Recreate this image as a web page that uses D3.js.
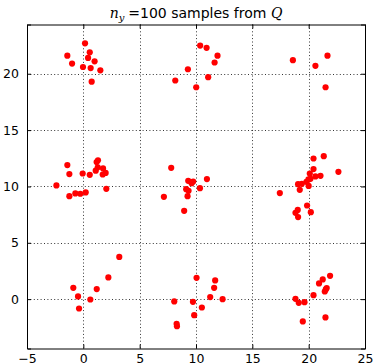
<!DOCTYPE html>
<html>
<head>
<meta charset="utf-8">
<script src="https://cdn.jsdelivr.net/npm/d3@7"></script>
<style>
  body { margin: 0; background: #fff; }
  svg { font-family: "DejaVu Sans", sans-serif; }
</style>
</head>
<body>
<svg id="chart" width="376" height="364"></svg>
<script>
// samples, grouped by cluster
const xs = [
  0.15, 0.57, -1.42, 0.42, 1.0, -1.0, -0.03, 0.65, 1.51, 0.74,
  10.37, 10.94, 11.91, 11.65, 9.28, 8.16, 11.08, 10.02,
  18.6, 21.67, 20.6, 21.5,
  1.30, 1.18, -1.42, 1.28, 1.75, 1.1, 1.98, 1.72, -1.24, -0.06, 0.57, -2.39, 2.04, 0.21, -0.71, -0.27, -1.24,
  7.8, 10.97, 9.31, 9.75, 9.61, 10.35, 9.13, 9.34, 9.25, 7.15, 8.95,
  21.34, 20.43, 20.43, 22.64, 20.1, 21.05, 20.6, 20.16, 19.98, 19.8, 19.39, 19.06, 20.0, 19.21, 17.44, 19.86, 19.03, 20.19, 18.83, 19.06,
  3.19, 2.22, -0.89, 1.19, -0.47, 0.62, -0.38,
  10.05, 11.7, 11.61, 11.26, 12.36, 8.07, 9.73, 10.52, 9.84, 8.28, 8.31,
  21.9, 21.25, 20.92, 21.6, 21.52, 21.43, 20.43, 18.83, 19.63, 19.12, 21.49, 19.48
]
const ys = [
  22.7, 21.9, 21.6, 21.4, 21.1, 20.9, 20.6, 20.5, 20.3, 19.3,
  22.5, 22.3, 21.6, 21.0, 20.4, 19.4, 19.7, 18.8,
  21.2, 21.6, 20.7, 18.8,
  12.32, 12.16, 11.9, 11.7, 11.6, 11.4, 11.2, 11.06, 11.1, 11.15, 11.03, 10.09, 9.79, 9.47, 9.38, 9.35, 9.14,
  11.65, 10.65, 10.5, 10.44, 10.29, 9.85, 9.76, 9.61, 9.14, 9.08, 7.84,
  12.69, 12.48, 11.54, 11.3, 11.15, 10.94, 10.89, 10.68, 10.62, 10.41, 10.23, 10.2, 10.05, 9.7, 9.41, 8.31, 7.92, 7.72, 7.66, 7.28,
  3.75, 1.93, 1.0, 0.89, 0.24, -0.03, -0.83,
  1.89, 1.66, 1.0, 0.18, 0.0, -0.2, -0.24, -0.74, -1.42, -2.19, -2.4,
  2.07, 1.75, 1.39, 0.98, 0.86, 0.68, 0.35, 0.03, -0.27, -0.33, -1.62, -1.98
]
const xTicks = [-5, 0, 5, 10, 15, 20, 25]
const yTicks = [0, 5, 10, 15, 20]

const margin = { top: 24.5, right: 11, bottom: 15.5, left: 27 }
const W = 376, H = 364

const svg = d3.select('#chart')

const x = d3.scaleLinear().domain([-5, 25]).range([margin.left, W - margin.right])
const y = d3.scaleLinear().domain([-4.38, 24.37]).range([H - margin.bottom, margin.top])

const fmt = (d) => (d < 0 ? '\u2212' + Math.abs(d) : String(d))

// grid
const grid = svg.append('g')
  .attr('stroke', '#000')
  .attr('stroke-width', 0.8)
  .attr('stroke-dasharray', '1,2.4')
grid.selectAll('.gx')
  .data(xTicks.slice(1, -1))
  .join('line')
  .attr('class', 'gx')
  .attr('x1', (d) => Math.round(x(d)) + 0.5).attr('x2', (d) => Math.round(x(d)) + 0.5)
  .attr('y1', y.range()[0]).attr('y2', y.range()[1])
grid.selectAll('.gy')
  .data(yTicks)
  .join('line')
  .attr('class', 'gy')
  .attr('y1', (d) => Math.round(y(d)) + 0.5).attr('y2', (d) => Math.round(y(d)) + 0.5)
  .attr('x1', x.range()[0]).attr('x2', x.range()[1])

// points
svg.append('g')
  .attr('fill', '#ff0000')
  .selectAll('circle')
  .data(xs.map((v, i) => [v, ys[i]]))
  .join('circle')
  .attr('cx', (d) => x(d[0]))
  .attr('cy', (d) => y(d[1]))
  .attr('r', 3.1)

// axes, matplotlib classic: ticks inside on all four sides
const tickLen = 4
const axBottom = svg.append('g').attr('transform', `translate(0,${y.range()[0]})`)
  .call(d3.axisBottom(x).tickValues(xTicks).tickSize(-tickLen).tickPadding(5.5).tickFormat(fmt))
const axTop = svg.append('g').attr('transform', `translate(0,${y.range()[1]})`)
  .call(d3.axisTop(x).tickValues(xTicks).tickSize(-tickLen).tickFormat(''))
const axLeft = svg.append('g').attr('transform', `translate(${x.range()[0]},0)`)
  .call(d3.axisLeft(y).tickValues(yTicks).tickSize(-tickLen).tickPadding(8).tickFormat(fmt))
const axRight = svg.append('g').attr('transform', `translate(${x.range()[1]},0)`)
  .call(d3.axisRight(y).tickValues(yTicks).tickSize(-tickLen).tickFormat(''))

;[axBottom, axTop, axLeft, axRight].forEach((g) => {
  g.attr('font-family', '"DejaVu Sans", sans-serif').attr('font-size', 12.5)
  g.select('.domain').attr('stroke', '#000').attr('stroke-width', 1)
  g.selectAll('.tick line').attr('stroke', '#000').attr('stroke-width', 1)
  g.selectAll('.tick text').attr('fill', '#000')
})

// title
const title = svg.append('text')
  .attr('x', (x.range()[0] + x.range()[1]) / 2)
  .attr('y', 18)
  .attr('text-anchor', 'middle')
  .attr('font-size', 14)
  .attr('fill', '#000')
title.append('tspan').attr('font-family', '"DejaVu Serif", serif').attr('font-style', 'italic').text('n')
title.append('tspan').attr('font-family', '"DejaVu Serif", serif').attr('font-style', 'italic')
  .attr('font-size', 10).attr('dy', 3).text('y')
title.append('tspan').attr('dy', -3).attr('dx', 4).text('=100 samples from ')
title.append('tspan').attr('font-family', '"DejaVu Serif", serif').attr('font-style', 'italic').text('Q')
</script>
</body>
</html>
